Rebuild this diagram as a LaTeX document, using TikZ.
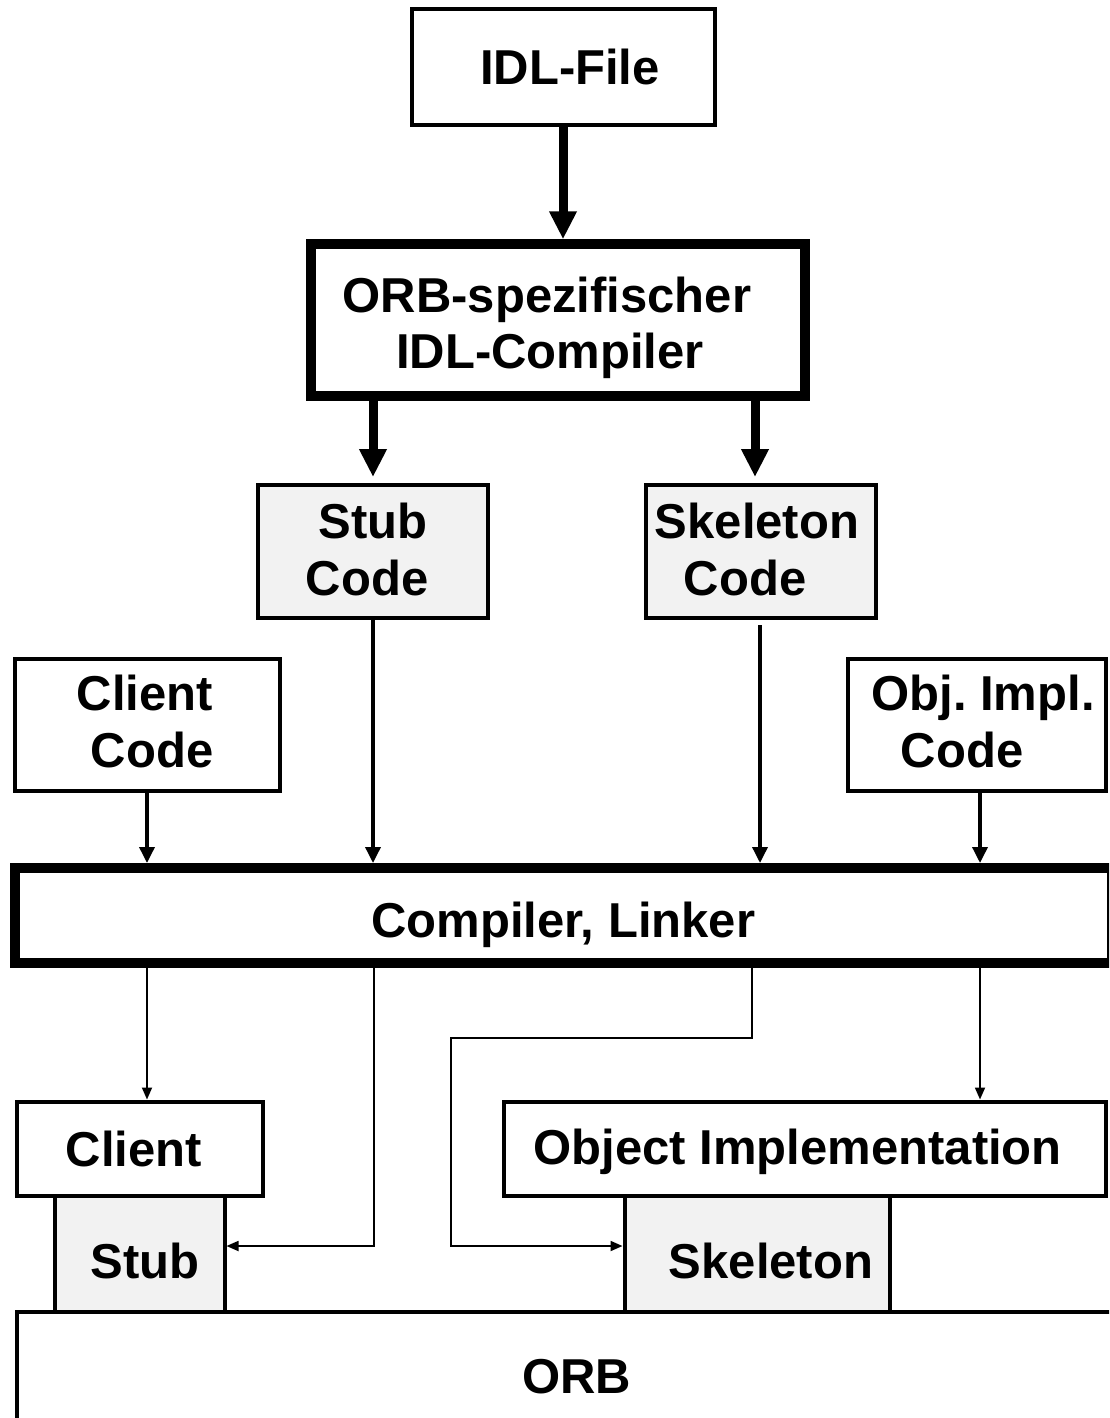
\documentclass[tikz,border=0pt]{standalone}
\usepackage{fontspec}
\setmainfont{Liberation Sans}
\usetikzlibrary{arrows.meta}
\definecolor{lg}{RGB}{242,242,242}
\newcommand\lowr[2]{\raisebox{-#1}[\height][\depth]{#2}}
\begin{document}
\frenchspacing
\begin{tikzpicture}[x=1pt,y=-1pt,
  bx/.style={draw, line width=4pt, fill=white, inner sep=0pt, align=center,
    font=\fontsize{49}{56}\selectfont\bfseries},
  gbx/.style={bx, fill=lg},
  heavy/.style={line width=10pt},
  bigarr/.style={line width=9pt, -{Triangle[length=28pt,width=26pt]}},
  midarr/.style={line width=3.5pt, -{Triangle[length=16pt,width=15pt]}},
  thinarr/.style={line width=1.8pt, -{Triangle[length=12pt,width=10pt]}}]
\useasboundingbox (0,0) rectangle (1109,1418);
\clip (0,0) rectangle (1109,1418);

% top part
\node[bx, minimum width=303pt, minimum height=115.5pt] (idl) at (563,67) {\hspace*{14pt}IDL-File};
\node[bx, heavy, minimum width=493.5pt, minimum height=151.5pt] (orbc) at (558,320)
  {\hspace*{-22pt}\lowr{8pt}{ORB-spezifischer}\\\hspace*{-16pt}\lowr{8pt}{IDL-Compiler}};
\node[gbx, minimum width=230pt, minimum height=133pt] (stubc) at (373,551.5)
  {\lowr{-3pt}{Stub}\\\hspace*{-12pt}\lowr{-2pt}{Code}};
\node[gbx, minimum width=230pt, minimum height=133pt] (skelc) at (761,551.5)
  {\hspace*{-8pt}\lowr{-3pt}{Skeleton}\\\hspace*{-32pt}\lowr{-2pt}{Code}};
\node[bx, minimum width=265pt, minimum height=131.5pt] (clientc) at (147,725)
  {\hspace*{-4pt}\lowr{-4pt}{Client}\\\hspace*{10pt}\lowr{-3pt}{Code}};
\node[bx, minimum width=258pt, minimum height=131.5pt] (objc) at (977,725)
  {\hspace*{12pt}\lowr{-4pt}{Obj. Impl.}\\\hspace*{-30pt}\lowr{-3pt}{Code}};
\node[bx, heavy, minimum width=1097.5pt, minimum height=94.5pt] (comp) at (563.25,915.25)
  {\lowr{10pt}{Compiler, Linker}};

% bottom part
\node[bx, minimum width=1120pt, minimum height=140pt] (orb) at (576.5,1381.5)
  {\lowr{-5pt}{ORB}};
\node[gbx, minimum width=170pt, minimum height=116pt] (stub) at (139.5,1253.5)
  {\hspace*{11pt}\lowr{7pt}{Stub}};
\node[gbx, minimum width=265pt, minimum height=116pt] (skel) at (757,1253.5)
  {\hspace*{28pt}\lowr{7pt}{Skeleton}};
\node[bx, minimum width=246pt, minimum height=94pt] (client) at (139.5,1148.5)
  {\hspace*{-11pt}Client};
\node[bx, minimum width=602.5pt, minimum height=94pt] (objimpl) at (804.75,1148.5)
  {\hspace*{-14pt}\lowr{3pt}{Object Implementation}};

% connectors
\draw[bigarr] (idl.south) -- (idl.south |- orbc.north);
\draw[bigarr, shorten >=6pt] (orbc.south -| stubc.north) -- (stubc.north);
\draw[bigarr, shorten >=6pt] (orbc.south -| 755,0) -- (755,483);

\draw[midarr] (clientc.south) -- (clientc.south |- comp.north);
\draw[midarr] (stubc.south) -- (stubc.south |- comp.north);
\draw[midarr, shorten <=5pt] (760,620) -- (760,863);
\draw[midarr] ([xshift=3pt]objc.south) -- ([xshift=3pt]objc.south |- comp.north);

\coordinate (k1) at (752,1038);
\coordinate (k2) at (451,1038);
\draw[thinarr] (comp.south -| clientc.south) -- (clientc.south |- client.north);
\draw[thinarr] (comp.south -| 980,0) -- (980,1099.5);
\draw[thinarr] (comp.south -| 374,0) |- ([yshift=7.5pt]stub.east);
\draw[thinarr] (comp.south -| k1) -- (k1) -- (k2) |- ([yshift=7.5pt]skel.west);
\end{tikzpicture}
\end{document}
